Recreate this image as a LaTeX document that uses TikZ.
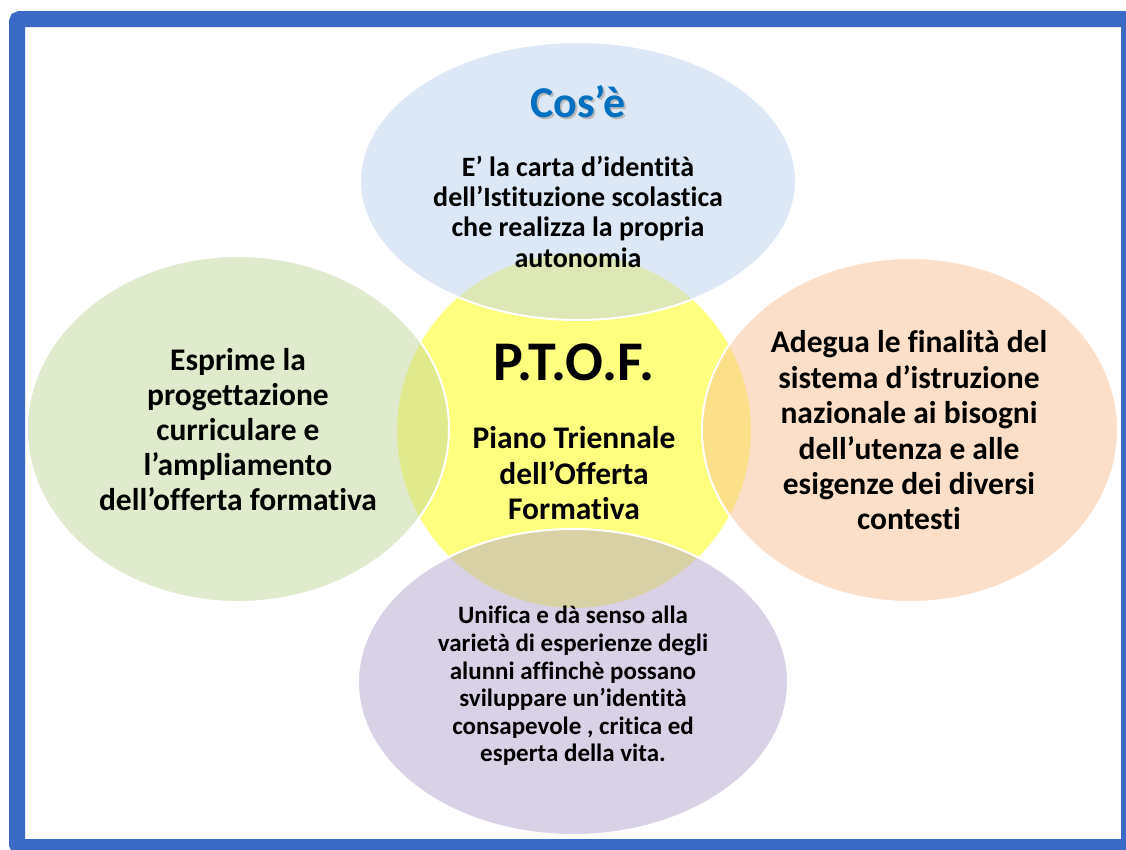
\documentclass[tikz,border=0pt]{standalone}
\usepackage{fontspec}
\setmainfont[Ligatures={NoCommon}]{Carlito}
\usetikzlibrary{shapes.geometric}
\definecolor{frameblue}{HTML}{3A6AC4}
\definecolor{cosblue}{HTML}{0070C0}
\definecolor{ptofyellow}{HTML}{FFFF00}
\definecolor{topblue}{HTML}{BDD3EE}
\definecolor{leftgreen}{HTML}{C3D69B}
\definecolor{rightorange}{HTML}{F9C194}
\definecolor{bottompurple}{HTML}{B4A5CE}
\begin{document}
\begin{tikzpicture}[x=1pt,y=-1pt]
        \tikzstyle{blob}=[ellipse,draw=white,line width=2pt,fill opacity=0.5,inner sep=0pt]
        \tikzstyle{blurb}=[align=center,text=black,inner sep=0pt]
        \useasboundingbox (0,0) rectangle (1126,849);
        \fill[white] (0,0) rectangle (1126,849);
        \draw[line width=16pt,frameblue,rounded corners=3pt] (17,19) rectangle (1129,847);
       \begin{scope}
         \node [blob,fill=ptofyellow,minimum width=356pt,minimum height=356pt] (ptof) at (574,431) {};
         \node [blob,fill=topblue,minimum width=436pt,minimum height=278pt] (cose) at (578,181) {};
         \node [blob,fill=leftgreen,minimum width=422pt,minimum height=346pt] (esprime) at (238,429) {};
         \node [blob,fill=rightorange,minimum width=416pt,minimum height=344pt] (adegua) at (910,430) {};
         \node [blob,fill=bottompurple,minimum width=430pt,minimum height=306pt] (unifica) at (573,682) {};
       \end{scope}
       \begin{scope}
         \node [blurb,text=gray!55,font=\fontsize{44}{48}\selectfont\bfseries,anchor=base] (cose-shadow) at (580,119) {Cos’è};
         \node [blurb,text=cosblue,font=\fontsize{44}{48}\selectfont\bfseries,anchor=base] (cose-title) at (578,117) {Cos’è};
         \node [blurb,font=\fontsize{28}{30.3}\selectfont\bfseries] (cose-text) at (578,211.5)
           {E’ la carta d’identità\\dell’Istituzione scolastica\\che realizza la propria\\autonomia};
         \node [blurb,font=\fontsize{56}{60}\selectfont\bfseries,anchor=base] (ptof-title) at (574,380) {P.T.O.F.};
         \node [blurb,font=\fontsize{31.5}{35.5}\selectfont\bfseries] (ptof-text) at (574,473.5)
           {Piano Triennale\\dell’Offerta\\Formativa};
         \node [blurb,font=\fontsize{31.5}{35}\selectfont\bfseries] (esprime-text) at (238,430)
           {Esprime la\\progettazione\\curriculare e\\l’ampliamento\\dell’offerta formativa};
         \node [blurb,font=\fontsize{31.5}{35.4}\selectfont\bfseries] (adegua-text) at (909,430.5)
           {Adegua le finalità del\\sistema d’istruzione\\nazionale ai bisogni\\dell’utenza e alle\\esigenze dei diversi\\contesti};
         \node [blurb,font=\fontsize{25}{27.6}\selectfont\bfseries] (unifica-text) at (573,686)
           {Unifica e dà senso alla\\varietà di esperienze degli\\alunni affinchè possano\\sviluppare un’identità\\consapevole , critica ed\\esperta della vita.};
       \end{scope}
\end{tikzpicture}
\end{document}
